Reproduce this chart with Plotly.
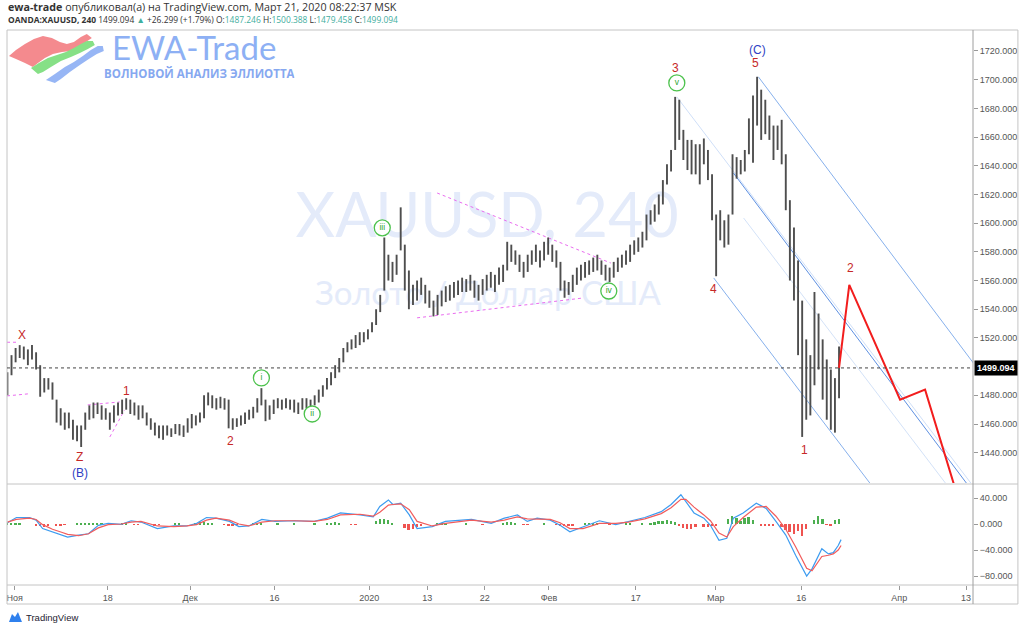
import plotly.graph_objects as go

# ---------------- data ----------------
# half-day bars of XAUUSD (index 0 = Oct 31 2019, last = Mar 20 2020)
bar_high = [
    1496, 1508, 1513, 1515, 1514, 1512, 1515, 1510, 1501, 1492,
    1492, 1489, 1477, 1471, 1468, 1468, 1463, 1459, 1459, 1468,
    1473, 1475, 1475, 1473, 1471, 1468, 1473, 1475, 1477, 1478,
    1477, 1475, 1473, 1473, 1468, 1464, 1461, 1459, 1459, 1459,
    1457, 1460, 1460, 1459, 1464, 1467, 1466, 1468, 1480, 1482,
    1480, 1478, 1479, 1478, 1477, 1464, 1464, 1466, 1468, 1470,
    1472, 1478, 1485, 1477, 1473, 1477, 1478, 1477, 1478, 1477,
    1477, 1475, 1478, 1478, 1477, 1480, 1484, 1487, 1492, 1496,
    1501, 1506, 1513, 1517, 1519, 1522, 1524, 1524, 1526, 1531,
    1540, 1550, 1590, 1578, 1573, 1578, 1611, 1585, 1567, 1557,
    1560, 1562, 1557, 1553, 1546, 1550, 1553, 1556, 1557, 1559,
    1560, 1562, 1561, 1564, 1560, 1557, 1561, 1564, 1566, 1564,
    1569, 1571, 1587, 1585, 1581, 1578, 1573, 1578, 1581, 1585,
    1581, 1587, 1590, 1585, 1581, 1573, 1560, 1559, 1564, 1569,
    1571, 1573, 1574, 1576, 1578, 1574, 1571, 1569, 1573, 1576,
    1578, 1581, 1585, 1588, 1590, 1594, 1606, 1609, 1613, 1620,
    1630, 1641, 1651, 1688, 1686, 1665, 1658, 1658, 1655, 1655,
    1659, 1651, 1634, 1606, 1609, 1602, 1606, 1648, 1646, 1644,
    1651, 1673, 1689, 1702, 1693, 1686, 1675, 1668, 1668, 1672,
    1648, 1616, 1597, 1574, 1546, 1519, 1508, 1552, 1537, 1519,
    1505, 1498, 1492, 1514,
]
bar_low = [
    1480, 1494, 1503, 1506, 1505, 1501, 1505, 1498, 1479, 1482,
    1484, 1477, 1461, 1459, 1456, 1457, 1449, 1448, 1444, 1456,
    1463, 1464, 1467, 1463, 1463, 1456, 1461, 1466, 1467, 1470,
    1467, 1466, 1463, 1464, 1459, 1456, 1452, 1450, 1449, 1452,
    1451, 1453, 1452, 1451, 1454, 1457, 1459, 1461, 1464, 1473,
    1471, 1470, 1471, 1470, 1457, 1456, 1458, 1459, 1460, 1463,
    1464, 1468, 1473, 1462, 1463, 1467, 1471, 1470, 1471, 1470,
    1468, 1467, 1470, 1471, 1468, 1473, 1475, 1479, 1484, 1487,
    1492, 1496, 1503, 1510, 1512, 1513, 1515, 1517, 1519, 1524,
    1529, 1538, 1553, 1560, 1559, 1564, 1581, 1553, 1540, 1543,
    1546, 1550, 1544, 1541, 1535, 1536, 1542, 1545, 1546, 1548,
    1550, 1552, 1552, 1553, 1548, 1546, 1550, 1553, 1555, 1552,
    1557, 1559, 1567, 1573, 1571, 1566, 1562, 1566, 1571, 1573,
    1569, 1574, 1578, 1573, 1569, 1553, 1548, 1550, 1552, 1557,
    1560, 1562, 1564, 1566, 1567, 1564, 1560, 1559, 1562, 1566,
    1569, 1571, 1573, 1578, 1580, 1583, 1588, 1599, 1601, 1606,
    1613, 1627, 1636, 1651, 1658, 1644, 1637, 1634, 1634, 1627,
    1641, 1630, 1602, 1563, 1588, 1583, 1585, 1606, 1631, 1634,
    1636, 1648, 1642, 1668, 1658, 1662, 1658, 1644, 1651, 1641,
    1609, 1560, 1546, 1508, 1451, 1463, 1466, 1487, 1498, 1477,
    1463, 1456, 1454, 1478,
]
last_price = 1499.094

# time axis (positions in bar index units)
tick_text = ["Ноя", "18", "Дек", "16", "2020", "13", "22", "Фев", "17", "Мар", "16", "Апр", "13"]
tick_pos = [1.8, 24.5, 44.6, 65.2, 88.3, 102.5, 116.5, 132.2, 153.4, 172.9, 193.8, 217.7, 234.0]

# 1500 is hidden behind the last-price label in the reference
price_ticks = [1440, 1460, 1480, 1520, 1540, 1560, 1580, 1600,
               1620, 1640, 1660, 1680, 1700, 1720]
macd_ticks = [-80, -40, 0, 40]

# MACD panel
macd_x = [0, 2.2, 5.4, 7.0, 8.6, 11.0, 13.4, 14.7, 17.4, 19.8, 22.2, 24.6, 27.8,
          30.2, 32.6, 36.6, 40.6, 43.8, 46.2, 48.6, 50.9, 54.2, 56.5, 58.9, 62.1,
          65.3, 70.1, 74.9, 78.1, 81.3, 86.1, 89.3, 90.9, 93.0, 94.1, 96.0, 98.1,
          100.0, 103.7, 106.9, 113.3, 118.1, 121.3, 124.5, 126.9, 129.3, 132.5,
          134.9, 137.3, 140.5, 144.5, 148.5, 151.6, 155.6, 159.6, 162.0, 164.4,
          165.6, 167.6, 170.0, 171.6, 173.7, 175.6, 177.2, 179.6, 182.8, 185.2,
          187.6, 190.0, 192.4, 195.1, 196.4, 198.8, 200.4, 201.6, 202.8, 203.5]
macd_val = [2, 10, 10, 6, -7, -12, -17, -20, -17, -15, -2, 1, -0.5,
            5, 3, -7, -3, -3, 1, 10, 9, 4, -4, -3, 7,
            4, 5, 4, 9, 17, 14, 11, 27, 37, 30, 32, 14,
            -7, -4, 4, 7, 1, 9, 14, 4, 9, 6,
            -2, -12, -4, 5, -1, 4, 10, 19, 30, 45,
            35, 17, 9, -2, -25, -22, 9, 17, 32, 24,
            4, -17, -48, -80, -69, -38, -46, -44, -33, -24]
signal_val = [3, 7, 9, 7, -1, -8, -13, -16, -18, -15, -6, -1, 0,
              3, 4, -3, -4, -3, -1, 6, 9, 6, 0, -3, 3,
              5, 5, 4, 7, 14, 15, 12, 18, 29, 30, 31, 22,
              4, -3, 1, 6, 3, 6, 11, 8, 8, 7,
              2, -7, -7, 1, 1, 3, 8, 16, 25, 38,
              38, 26, 14, 5, -14, -20, -4, 10, 26, 27,
              12, -8, -35, -68, -72, -50, -48, -46, -40, -33]
hist_x = [0, 1, 2, 3, 7, 8, 9, 10, 12, 13, 14, 17, 18, 19, 20, 21, 22, 23, 28, 29,
          31, 32, 36, 37, 41, 42, 46, 47, 48, 49, 50, 53, 54, 55, 56, 60, 61, 62, 66,
          70, 75, 78, 79, 80, 81, 84, 85, 90, 91, 92, 93, 94, 97, 98, 99, 100, 101,
          105, 106, 107, 112, 116, 121, 122, 123, 124, 126, 127, 131, 134, 135, 136,
          137, 138, 141, 142, 143, 144, 147, 151, 152, 155, 157, 158, 159, 160, 161,
          162, 163, 164, 165, 166, 167, 168, 170, 171, 172, 173, 176, 177, 178, 179,
          180, 181, 182, 184, 185, 186, 187, 189, 190, 191, 192, 193, 194, 195, 197,
          198, 199, 200, 201, 202, 203]
hist_val = [2, 2, 2, 1, -2, -3, -4, -3, -2, -2, -1, 1, 2, 2, 2, 2, 1, 1, 1, 1,
            -1, -1, -2, -1, 1, 1, 2, 3, 3, 2, 1, -1, -2, -2, -1, 2, 2, 1, 1,
            1, 1, 2, 2, 3, 2, -1, -1, 4, 7, 8, 6, 2, -6, -9, -8, -5, -2,
            1, 2, 1, 1, -1, 2, 3, 3, 2, -1, -1, 1, -1, -3, -3,
            -3, -2, 1, 2, 2, 1, -1, 1, 1, 2, 2, 3, 4, 5, 6,
            4, 3, -3, -6, -8, -7, -5, -4, -4, -3, -2, 8, 12, 10, 4,
            9, 11, 6, -2, -3, -3, -2, -5, -9, -12, -16, -10, -18, -8, 6,
            12, 8, -1, -2, 6, 7]

# forecast path (red)
forecast_x = [203, 205.5, 217.9, 224.0, 232.0]
forecast_y = [last_price, 1557, 1477, 1484, 1409]

# channel lines
channel_x = [[183.3, 236.5], [163.4, 237.0], [177.2, 235.0], [179.7, 230.0], [172.4, 212.0]]
channel_y = [[1702, 1499.8], [1688, 1412], [1635, 1415.4], [1603.6, 1415], [1561.8, 1413.3]]
channel_c = ["#86b0ec", "#cfdff8", "#5d90e2", "#d3e2f8", "#86b0ec"]

# pink dotted helper lines
pink_x = [[-0.1, 2.6], [-0.1, 5.0], [19.6, 27.4], [25.0, 28.6], [104.9, 147.3], [100.0, 140.7]]
pink_y = [[1517, 1517], [1479.6, 1481], [1473.3, 1475.4], [1451, 1469.8], [1621, 1572.2], [1534, 1547.9]]

# wave labels
label_text = ["X", "1", "Z", "2", "3", "5", "4", "1", "2", "(B)", "(C)"]
label_x = [3.6, 29.1, 17.7, 54.5, 163.1, 182.6, 172.4, 194.5, 205.8, 17.7, 183.1]
label_y = [1522, 1483, 1437.0, 1448.2, 1708.2, 1711.6, 1554.1, 1442, 1568.8, 1426.2, 1720.7]
label_col = ["#c62828"] * 9 + ["#2f3fc4", "#2f3fc4"]

circ_text = ["iii", "i", "ii", "iv", "v"]
circ_x = [91.5, 62.0, 74.4, 146.8, 163.4]
circ_y = [1596.7, 1492.1, 1467.0, 1552.7, 1697.7]

# ---------------- layout helpers (pixel -> paper) ----------------
PX_L, PX_R, PX_T, PX_B = 7, 975, 30, 585


def xp(p):
    return (p - PX_L) / (PX_R - PX_L)


def yp(p):
    return (PX_B - p) / (PX_B - PX_T)


fig = go.Figure()

# watermark (first so it sits under everything)
fig.add_trace(go.Scatter(x=[117.1], y=[1601], mode="text", text=["XAUUSD, 240"],
                         textfont=dict(size=61, color="#e4ebfa", family="Lato"),
                         hoverinfo="skip", showlegend=False))
fig.add_trace(go.Scatter(x=[117.3], y=[1549], mode="text", text=["Золото / Доллар США"],
                         textfont=dict(size=33, color="#e4ebfa", family="Lato"),
                         hoverinfo="skip", showlegend=False))

# channels
for cx, cy, cc in zip(channel_x, channel_y, channel_c):
    fig.add_trace(go.Scatter(x=cx, y=cy, mode="lines", line=dict(color=cc, width=1),
                             hoverinfo="skip", showlegend=False))
for cx, cy in zip(pink_x, pink_y):
    fig.add_trace(go.Scatter(x=cx, y=cy, mode="lines",
                             line=dict(color="#ea6cf0", width=1, dash="dot"),
                             hoverinfo="skip", showlegend=False))

# price bars
bx, by = [], []
for i, (h, l) in enumerate(zip(bar_high, bar_low)):
    bx += [i, i, None]
    by += [l, h, None]
fig.add_trace(go.Scatter(x=bx, y=by, mode="lines", line=dict(color="#4e4e4e", width=1.9),
                         hoverinfo="skip", showlegend=False))

# forecast
fig.add_trace(go.Scatter(x=forecast_x, y=forecast_y, mode="lines",
                         line=dict(color="#f21d1d", width=2), hoverinfo="skip", showlegend=False))

# green circled labels
fig.add_trace(go.Scatter(x=circ_x, y=circ_y, mode="markers+text", text=circ_text,
                         textposition="middle center",
                         marker=dict(size=16, color="white", line=dict(color="#4cc24c", width=1.3)),
                         textfont=dict(size=8.5, color="#2fa52f", family="Liberation Sans"),
                         hoverinfo="skip", showlegend=False))

# MACD panel
hist_col = ["#4caf50" if v >= 0 else "#ef5350" for v in hist_val]
fig.add_trace(go.Bar(x=hist_x, y=hist_val, width=0.45, marker=dict(color=hist_col, line_width=0),
                     yaxis="y2", hoverinfo="skip", showlegend=False))
fig.add_trace(go.Scatter(x=macd_x, y=macd_val, mode="lines", line=dict(color="#3d9cf0", width=1.2),
                         yaxis="y2", hoverinfo="skip", showlegend=False))
fig.add_trace(go.Scatter(x=macd_x, y=signal_val, mode="lines", line=dict(color="#f15c5c", width=1.2),
                         yaxis="y2", hoverinfo="skip", showlegend=False))

annotations = []
for t, x, y, c in zip(label_text, label_x, label_y, label_col):
    annotations.append(dict(x=x, y=y, xref="x", yref="y", text=t, showarrow=False,
                            font=dict(size=12, color=c, family="Liberation Sans")))

teal = "#3fae9e"
hdr1 = "<b>ewa-trade</b> опубликовал(а) на TradingView.com, Март 21, 2020 08:22:37 MSK"
hdr2 = ("<b>OANDA:XAUUSD, 240</b> 1499.094 <span style='color:%s'>▲</span> +26.299 (+1.79%%) "
        "O:<span style='color:%s'>1487.246</span> H:<span style='color:%s'>1500.388</span> "
        "L:<span style='color:%s'>1479.458</span> C:<span style='color:%s'>1499.094</span>"
        % (teal, teal, teal, teal, teal))
annotations.append(dict(x=xp(6), y=yp(7), xref="paper", yref="paper", xanchor="left", yanchor="middle",
                        text=hdr1, showarrow=False, font=dict(size=10.7, color="#333", family="Open Sans")))
annotations.append(dict(x=xp(6), y=yp(20), xref="paper", yref="paper", xanchor="left", yanchor="middle",
                        text=hdr2, showarrow=False, font=dict(size=8.45, color="#333", family="Open Sans")))
# logo text
annotations.append(dict(x=xp(110), y=yp(47), xref="paper", yref="paper", xanchor="left", yanchor="middle",
                        text="EWA-Trade", showarrow=False, height=34,
                        font=dict(size=33, color="#8db0f4", family="Lato")))
annotations.append(dict(x=xp(102), y=yp(73), xref="paper", yref="paper", xanchor="left", yanchor="middle",
                        text="<b>ВОЛНОВОЙ АНАЛИЗ ЭЛЛИОТТА</b>", showarrow=False, height=14,
                        font=dict(size=11.5, color="#86a8f0", family="Open Sans")))
# last price label
annotations.append(dict(x=xp(976), y=last_price, xref="paper", yref="y", xanchor="left", yanchor="middle",
                        text="<b>%.3f</b>" % last_price, showarrow=False, bgcolor="#000000",
                        borderpad=2, font=dict(size=9, color="white", family="Liberation Sans")))
# TradingView footer
annotations.append(dict(x=xp(24), y=yp(617), xref="paper", yref="paper", xanchor="left", yanchor="middle",
                        text="TradingView", showarrow=False,
                        font=dict(size=9.5, color="#1e2230", family="Liberation Sans")))


def path(points):
    s = "M %f,%f " % (xp(points[0][0]), yp(points[0][1]))
    for q in points[1:]:
        s += "L %f,%f " % (xp(q[0]), yp(q[1]))
    return s + "Z"


red_rib = [(9, 56), (16, 50), (25, 44), (34, 39), (43, 36), (52, 38), (60, 42), (67, 44), (74, 42),
           (81, 37), (87, 34), (92, 38), (86, 42), (79, 47), (71, 51), (62, 52), (53, 54),
           (45, 58), (38, 63), (33, 67), (25, 63), (16, 59)]
green_rib = [(31, 68), (39, 63), (48, 58), (57, 55), (66, 52), (74, 48), (81, 44), (87, 41), (93, 41),
             (95, 45), (88, 49), (80, 53), (71, 57), (61, 61), (51, 67), (43, 72), (38, 74)]
blue_rib = [(46, 80), (55, 74), (65, 67), (74, 62), (83, 56), (91, 50), (98, 46), (103, 46),
            (104, 51), (97, 54), (89, 59), (80, 65), (70, 72), (61, 79), (55, 83)]
tv_icon = [(9, 622), (12, 614), (15, 617), (18, 612), (22, 622)]

shapes = [
    dict(type="path", path=path(red_rib), xref="paper", yref="paper", fillcolor="#f48a8e", line_width=0),
    dict(type="path", path=path(green_rib), xref="paper", yref="paper", fillcolor="#86e086", line_width=0),
    dict(type="path", path=path(blue_rib), xref="paper", yref="paper", fillcolor="#97b6f5", line_width=0),
    dict(type="path", path=path(tv_icon), xref="paper", yref="paper", fillcolor="#2f80ed", line_width=0),
    # frame
    dict(type="rect", xref="paper", yref="paper", x0=0, x1=xp(1020), y0=yp(604), y1=1,
         line=dict(color="#c4c4c4", width=1)),
    dict(type="line", xref="paper", yref="paper", x0=0, x1=xp(1020), y0=yp(484), y1=yp(484),
         line=dict(color="#c4c4c4", width=1)),
    dict(type="line", xref="paper", yref="paper", x0=0, x1=xp(1020), y0=0, y1=0,
         line=dict(color="#c4c4c4", width=1)),
    dict(type="line", xref="paper", yref="paper", x0=1, x1=1, y0=yp(604), y1=1,
         line=dict(color="#9e9e9e", width=1)),
    # last price dotted line
    dict(type="line", xref="paper", yref="y", x0=0, x1=1, y0=last_price, y1=last_price,
         line=dict(color="#444", width=1, dash="dot")),
]

fig.update_layout(
    width=1024, height=629,
    margin=dict(l=PX_L, r=1024 - PX_R, t=PX_T, b=629 - PX_B),
    paper_bgcolor="white", plot_bgcolor="white",
    showlegend=False, bargap=0,
    xaxis=dict(domain=[0, 1], range=[-0.1, 235.7], anchor="y2", tickvals=tick_pos, ticktext=tick_text,
               ticks="outside", ticklen=4, tickcolor="#999", showgrid=False, zeroline=False,
               showline=False, tickfont=dict(size=9, color="#555", family="Liberation Sans")),
    yaxis=dict(domain=[yp(483), 1], range=[1418.9, 1734.6], side="right", anchor="x",
               tickvals=price_ticks, tickformat=".3f", ticks="outside", ticklen=4, tickcolor="#999",
               showgrid=False, zeroline=False, showline=False,
               tickfont=dict(size=9, color="#555", family="Liberation Sans")),
    yaxis2=dict(domain=[0, yp(485)], range=[-93.8, 60], side="right", anchor="x",
                tickvals=macd_ticks, tickformat=".3f", ticks="outside", ticklen=4, tickcolor="#999",
                showgrid=False, zeroline=False, showline=False,
                tickfont=dict(size=9, color="#555", family="Liberation Sans")),
    annotations=annotations,
    shapes=shapes,
)

fig.write_html("out.html")
